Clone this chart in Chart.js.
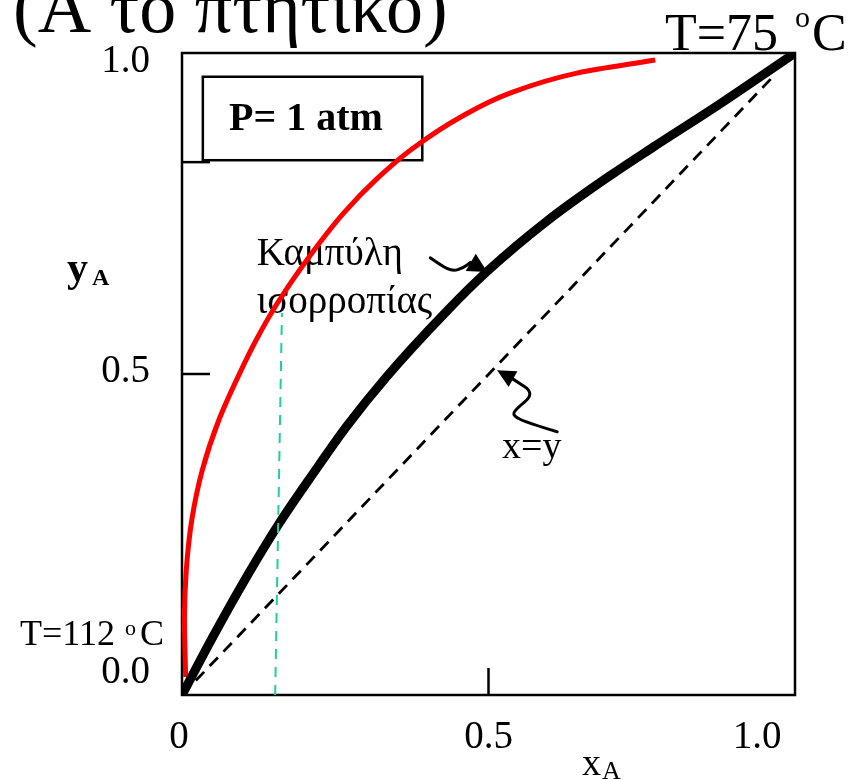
<!DOCTYPE html>
<html><head><meta charset="utf-8">
<script src="https://cdn.jsdelivr.net/npm/chart.js@4.4.1/dist/chart.umd.min.js"></script>
<style>html,body{margin:0;padding:0;background:#fff;overflow:hidden}#wrap{width:856px;height:780px;position:relative}</style>
</head><body><div id="wrap"><canvas id="c" width="856" height="780"></canvas></div>
<script>
// ---- data ----
const xTickValues = [0, 0.5, 1.0];
const xTickLabels = ['0', '0.5', '1.0'];
const yTickValues = [0, 0.5, 1.0];
const yTickLabels = ['0.0', '0.5', '1.0'];
const innerTickY = [0.5, 0.83];
const innerTickX = [0.5];

// vapour (dew) curve (ordered by y)
const vaporX = [0.006, 0.004, 0.007, 0.016, 0.033, 0.060, 0.095, 0.121, 0.156, 0.207, 0.264, 0.319, 0.373, 0.454, 0.536, 0.646, 0.772];
const vaporY = [0.028, 0.117, 0.195, 0.273, 0.350, 0.428, 0.503, 0.553, 0.611, 0.682, 0.751, 0.805, 0.849, 0.900, 0.938, 0.969, 0.989];

// equilibrium curve
const equilX = [0, 0.050, 0.106, 0.157, 0.214, 0.269, 0.334, 0.432, 0.498, 0.595, 0.703, 0.768, 0.878, 1.0];
const equilY = [0, 0.090, 0.185, 0.265, 0.345, 0.419, 0.496, 0.598, 0.660, 0.738, 0.812, 0.853, 0.921, 1.0];

const diagX = [0, 0.967];
const diagY = [0, 0.966];

const guideX = [0.152, 0.163];
const guideY = [0, 0.595];

const arrowEqX = [0.405, 0.424, 0.442, 0.458, 0.471, 0.498];
const arrowEqY = [0.681, 0.668, 0.660, 0.665, 0.674, 0.659];
const arrowDiagX = [0.612, 0.563, 0.540, 0.543, 0.576, 0.540, 0.514];
const arrowDiagY = [0.410, 0.424, 0.435, 0.444, 0.470, 0.492, 0.506];

const pts = (xs, ys) => xs.map((x, i) => ({x, y: ys[i]}));

const SERIF = "'Liberation Serif','Times New Roman',serif";

function drawArrow(ctx, sx, sy, xs, ys, halfW) {
  const P = xs.map((x, i) => [sx.getPixelForValue(x), sy.getPixelForValue(ys[i])]);
  const tip = P[P.length - 1], base = P[P.length - 2];
  ctx.save();
  ctx.strokeStyle = '#000'; ctx.fillStyle = '#000';
  ctx.lineWidth = 3; ctx.lineCap = 'round'; ctx.lineJoin = 'round';
  ctx.beginPath();
  const shaft = P.slice(0, P.length - 1);
  ctx.moveTo(shaft[0][0], shaft[0][1]);
  for (let i = 1; i < shaft.length - 1; i++) {
    const mx = (shaft[i][0] + shaft[i + 1][0]) / 2, my = (shaft[i][1] + shaft[i + 1][1]) / 2;
    ctx.quadraticCurveTo(shaft[i][0], shaft[i][1], mx, my);
  }
  ctx.lineTo(shaft[shaft.length - 1][0], shaft[shaft.length - 1][1]);
  ctx.stroke();
  const dx = tip[0] - base[0], dy = tip[1] - base[1];
  const L = Math.hypot(dx, dy), px = -dy / L, py = dx / L;
  ctx.beginPath();
  ctx.moveTo(tip[0], tip[1]);
  ctx.lineTo(base[0] + px * halfW, base[1] + py * halfW);
  ctx.lineTo(base[0] - px * halfW, base[1] - py * halfW);
  ctx.closePath(); ctx.fill();
  ctx.restore();
}

const decor = {
  id: 'decor',
  beforeDatasetsDraw(chart) {
    const ctx = chart.ctx, a = chart.chartArea;
    const sx = chart.scales.x, sy = chart.scales.y;
    ctx.save();
    // frame
    ctx.strokeStyle = '#000'; ctx.lineWidth = 2.5;
    ctx.strokeRect(a.left, a.top, a.right - a.left, a.bottom - a.top);
    // inner ticks
    innerTickY.forEach(v => {
      const y = sy.getPixelForValue(v);
      ctx.beginPath(); ctx.moveTo(a.left, y); ctx.lineTo(a.left + 28, y); ctx.stroke();
    });
    innerTickX.forEach(v => {
      const x = sx.getPixelForValue(v);
      ctx.beginPath(); ctx.moveTo(x, a.bottom); ctx.lineTo(x, a.bottom - 27); ctx.stroke();
    });
    // tick labels
    ctx.fillStyle = '#000';
    ctx.font = '39px ' + SERIF;
    ctx.textAlign = 'center'; ctx.textBaseline = 'alphabetic';
    const xShift = [-3, 0, -38];
    xTickValues.forEach((v, i) => ctx.fillText(xTickLabels[i], sx.getPixelForValue(v) + xShift[i], 748));
    ctx.textAlign = 'right'; ctx.textBaseline = 'middle';
    const yShift = [-22, -2, 9];
    yTickValues.forEach((v, i) => ctx.fillText(yTickLabels[i], 150, sy.getPixelForValue(v) + yShift[i]));
    ctx.textBaseline = 'alphabetic'; ctx.textAlign = 'left';
    // axis titles
    ctx.font = '38px ' + SERIF; ctx.fillText('x', 582, 775);
    ctx.font = '26px ' + SERIF; ctx.fillText('A', 602, 779);
    ctx.font = 'bold 42px ' + SERIF; ctx.fillText('y', 67, 281);
    ctx.font = 'bold 24px ' + SERIF; ctx.fillText('A', 92, 285);
    // title (cut off at top)
    ctx.font = '74px ' + SERIF; ctx.fillText('(Α το πτητικο)', 13, 32);
    // temperatures
    ctx.font = '52px ' + SERIF; ctx.fillText('T=75', 665, 50);
    ctx.font = '30px ' + SERIF; ctx.fillText('o', 795, 27);
    ctx.font = '52px ' + SERIF; ctx.fillText('C', 812, 50);
    ctx.font = '36px ' + SERIF; ctx.fillText('T=112', 20, 645);
    ctx.font = '22px ' + SERIF; ctx.fillText('o', 125, 635);
    ctx.font = '36px ' + SERIF; ctx.fillText('C', 140, 645);
    // pressure box
    const bx0 = sx.getPixelForValue(0.034), bx1 = sx.getPixelForValue(0.392);
    const by0 = sy.getPixelForValue(0.963), by1 = sy.getPixelForValue(0.833);
    ctx.fillStyle = '#fff'; ctx.fillRect(bx0, by0, bx1 - bx0, by1 - by0);
    ctx.lineWidth = 2.5; ctx.strokeRect(bx0, by0, bx1 - bx0, by1 - by0);
    ctx.fillStyle = '#000';
    ctx.font = 'bold 40px ' + SERIF; ctx.fillText('P= 1 atm', 229, 130);
    // curve labels
    ctx.font = '39px ' + SERIF;
    ctx.fillText('Καμπύλη', sx.getPixelForValue(0.122), sy.getPixelForValue(0.670));
    ctx.fillText('ισορροπίας', sx.getPixelForValue(0.122), sy.getPixelForValue(0.595));
    ctx.font = '38px ' + SERIF;
    ctx.fillText('x=y', sx.getPixelForValue(0.522), sy.getPixelForValue(0.369));
    ctx.restore();
  },
  afterDatasetsDraw(chart) {
    const ctx = chart.ctx, sx = chart.scales.x, sy = chart.scales.y;
    drawArrow(ctx, sx, sy, arrowEqX, arrowEqY, 10);
    drawArrow(ctx, sx, sy, arrowDiagX, arrowDiagY, 9);
  }
};

new Chart(document.getElementById('c'), {
  type: 'line',
  data: {
    datasets: [
      {data: pts(diagX, diagY), borderColor: '#000', borderWidth: 2.8, borderDash: [12, 8], pointRadius: 0, tension: 0},
      {data: pts(guideX, guideY), indexAxis: 'y', borderColor: '#1fcf9c', borderWidth: 2, borderDash: [10, 8], pointRadius: 0, tension: 0},
      {data: pts(equilX, equilY), borderColor: '#000', borderWidth: 9, pointRadius: 0, cubicInterpolationMode: 'monotone', borderCapStyle: 'round'},
      {data: pts(vaporX, vaporY), indexAxis: 'y', borderColor: '#ff0000', borderWidth: 5, pointRadius: 0, cubicInterpolationMode: 'monotone'}
    ]
  },
  options: {
    responsive: false, animation: false, devicePixelRatio: 1,
    layout: {padding: {left: 182, top: 53, right: 61, bottom: 85}},
    plugins: {legend: {display: false}, tooltip: {enabled: false}, title: {display: false}},
    scales: {
      x: {type: 'linear', min: 0, max: 1, display: false},
      y: {type: 'linear', min: 0, max: 1, display: false}
    }
  },
  plugins: [decor]
});
</script>
</body></html>
